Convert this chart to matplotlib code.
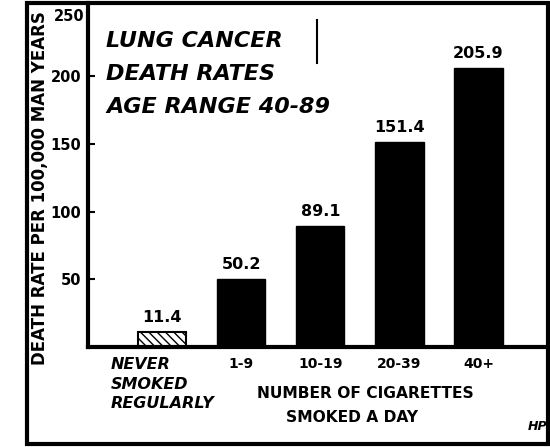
"""Lung cancer death rates by cigarettes smoked per day (newspaper chart redraw)."""

import matplotlib

matplotlib.use("Agg")
import matplotlib.pyplot as plt
from matplotlib.patches import Rectangle

categories = ["NEVER\nSMOKED\nREGULARLY", "1-9", "10-19", "20-39", "40+"]
death_rates = [11.4, 50.2, 89.1, 151.4, 205.9]
rate_labels = ["11.4", "50.2", "89.1", "151.4", "205.9"]
y_ticks = [50, 100, 150, 200]

plt.rcParams["font.family"] = ["DejaVu Sans"]
plt.rcParams["font.weight"] = "bold"

fig = plt.figure(figsize=(5.5, 4.47), dpi=100)
ax = fig.add_axes([88 / 550, 1 - 347 / 447, 460 / 550, 344 / 447])

x = list(range(len(categories)))
bars = ax.bar(x, death_rates, width=0.61, color="black", edgecolor="black")
# the non-smoker bar is hatched instead of solid
bars[0].set_facecolor("white")
bars[0].set_hatch("\\\\\\\\")
bars[0].set_linewidth(1.5)

ax.bar_label(bars, labels=rate_labels, padding=5, fontsize=11.5, fontweight="bold")

ax.set_xlim(-0.94, 4.88)
ax.set_ylim(0, 254)

ax.set_yticks(y_ticks)
ax.set_yticklabels([str(v) for v in y_ticks], fontsize=10.5, fontweight="bold")
ax.tick_params(axis="y", direction="in", length=5, width=1.5, pad=5)
ax.text(-0.99, 244, "250", ha="right", va="center", fontsize=10.5, fontweight="bold")

ax.set_xticks(x)
ax.set_xticklabels(categories, fontsize=10, fontweight="bold", va="top")
never = ax.get_xticklabels()[0]
never.set_multialignment("left")
never.set_style("italic")
never.set_fontsize(11.5)
never.set_linespacing(1.4)
ax.tick_params(axis="x", length=0, pad=7)

for side in ("top", "right"):
    ax.spines[side].set_visible(False)
ax.spines["left"].set_linewidth(3)
ax.spines["bottom"].set_linewidth(3)

fig.text(40 / 550, 1 - 188 / 447, "DEATH RATE PER 100,000 MAN YEARS", rotation=90,
         ha="center", va="center", fontsize=12, fontweight="bold")

for i, line in enumerate(["LUNG CANCER", "DEATH RATES", "AGE RANGE 40-89"]):
    ax.text(0.04, 0.89 - i * 0.096, line, transform=ax.transAxes, fontsize=16,
            fontweight="bold", style="italic", ha="left", va="center")
ax.plot([0.498, 0.498], [0.825, 0.95], transform=ax.transAxes, color="black", lw=1.5)

fig.text(365 / 550, 1 - 394 / 447, "NUMBER OF CIGARETTES", ha="center", va="center",
         fontsize=11.2, fontweight="bold")
fig.text(352 / 550, 1 - 417 / 447, "SMOKED A DAY", ha="center", va="center",
         fontsize=11.2, fontweight="bold")
fig.text(538 / 550, 1 - 426 / 447, "HP", ha="center", va="center", fontsize=9,
         fontweight="bold", style="italic")

# outer newspaper frame
fig.patches.append(Rectangle((27 / 550, 3 / 447), 521 / 550, 441 / 447,
                             transform=fig.transFigure, fill=False, lw=3,
                             edgecolor="black"))

fig.savefig("out.png", dpi=100)
